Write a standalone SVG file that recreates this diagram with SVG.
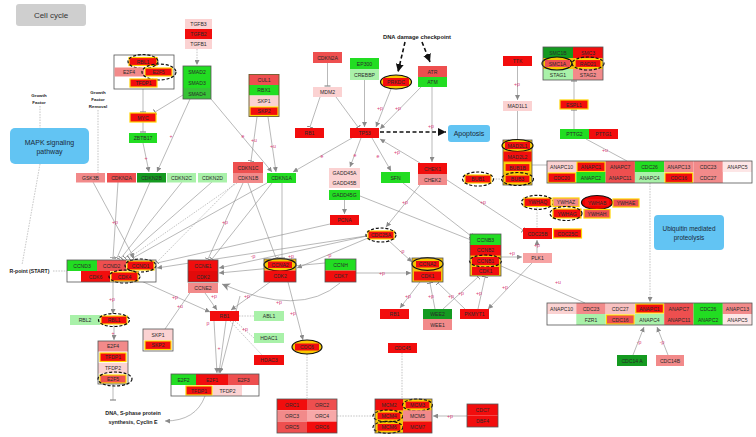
<svg xmlns="http://www.w3.org/2000/svg" width="756" height="437" viewBox="0 0 756 437">
<defs>
<style>
text{font-family:"Liberation Sans",Arial,sans-serif;font-size:5.1px;fill:#2a2a2a;text-anchor:middle;dominant-baseline:central}
.r{fill:#f20d0d}.mr{fill:#ee4f4f}.lr{fill:#f28a8a}.pk{fill:#fbd2d2}.vp{fill:#fde6e6}.g{fill:#22dd22}.dg{fill:#149a20}.lg{fill:#a9f1a9}.mg{fill:#36c336}.wh{fill:#fff}.gold{fill:#f4c20d}
.y{stroke:#ffd400;stroke-width:1.2}
.bx{fill:none;stroke:#555;stroke-width:0.8}
.de{fill:none;stroke:#111;stroke-width:1.2;stroke-dasharray:3 1.8}
.se{fill:#f7c600;stroke:#111;stroke-width:1.2}
.ln{fill:none;stroke:#8a8a8a;stroke-width:0.6}
.dl{fill:none;stroke:#9a9a9a;stroke-width:0.6;stroke-dasharray:1.5 1.2}
.bd{fill:none;stroke:#111;stroke-width:1.6;stroke-dasharray:4 2.5}
.lb{fill:#d83a78;font-size:5.2px}
.pw{fill:#62c4f3}
.bt{font-weight:bold;fill:#222}
</style>
<marker id="a" viewBox="0 0 10 10" refX="10" refY="5" markerWidth="5" markerHeight="5" orient="auto" markerUnits="userSpaceOnUse"><path d="M0,0L10,5L0,10z" fill="#8a8a8a"/></marker>
<marker id="A" viewBox="0 0 10 10" refX="10" refY="5" markerWidth="10" markerHeight="8" orient="auto" markerUnits="userSpaceOnUse"><path d="M0,0L10,5L0,10L3,5z" fill="#8a8a8a"/></marker>
<marker id="t" viewBox="0 0 2 10" refX="1" refY="5" markerWidth="1.2" markerHeight="7" orient="auto" markerUnits="userSpaceOnUse"><rect width="2" height="10" fill="#8a8a8a"/></marker>
<marker id="k" viewBox="0 0 10 10" refX="10" refY="5" markerWidth="8" markerHeight="8" orient="auto" markerUnits="userSpaceOnUse"><path d="M0,0L10,5L0,10z" fill="#111"/></marker>
</defs>
<rect width="756" height="437" fill="#fff"/>

<!-- connectors -->
<g id="connectors">
<path class="ln" d="M143,89V112" marker-end="url(#t)"/>
<path class="ln" d="M183,95L155,112" marker-end="url(#t)"/>
<path class="ln" d="M143,122V132" marker-end="url(#t)"/>
<path class="ln" d="M143,143L149,172" marker-end="url(#a)"/>
<path class="ln" d="M190,99L157,172" marker-end="url(#a)"/>
<path class="ln" d="M211,99L272,172" marker-end="url(#a)"/>
<path class="dl" d="M197,49V65" marker-end="url(#a)"/>
<path class="ln" d="M257,117L251,161" marker-end="url(#t)"/>
<path class="ln" d="M268,117L276,172" marker-end="url(#a)"/>
<path class="ln" d="M327.5,63V86" marker-end="url(#t)"/>
<path class="ln" d="M320,97L310,127" marker-end="url(#t)"/>
<path class="ln" d="M336,97L358,127" marker-end="url(#t)"/>
<path class="ln" d="M364.5,80V127" marker-end="url(#a)"/>
<path class="ln" d="M391,89L376,127" marker-end="url(#a)"/>
<path class="ln" d="M421,87L380,129" marker-end="url(#a)"/>
<path class="bd" d="M405,42L398,72" marker-end="url(#k)"/>
<path class="bd" d="M422,42L430,62" marker-end="url(#k)"/>
<path class="bd" d="M380,132H446" marker-end="url(#k)"/>
<path class="ln" d="M432,87V162" marker-end="url(#a)"/>
<path class="ln" d="M517.5,66V100" marker-end="url(#a)"/>
<path class="ln" d="M517.5,111V140"/>
<path class="ln" d="M574,100V81" marker-end="url(#t)"/>
<path class="ln" d="M574,129V110" marker-end="url(#t)"/>
<path class="ln" d="M586,139L627,161"/>
<path class="ln" d="M532,165H547"/>
<path class="dl" d="M493,179H503"/>
<path class="dl" d="M537,207V228"/>
<path class="dl" d="M650,183V302" marker-end="url(#a)"/>
<path class="ln" d="M352,138L293,172" marker-end="url(#a)"/>
<path class="ln" d="M361,138L350,167" marker-end="url(#a)"/>
<path class="ln" d="M372,138L391,171" marker-end="url(#a)"/>
<path class="ln" d="M420,163L380,139" marker-end="url(#a)"/>
<path class="ln" d="M344.5,200V214" marker-end="url(#a)"/>
<path class="ln" d="M420,185L386,227" marker-end="url(#a)"/>
<path class="ln" d="M447,180L523,230" marker-end="url(#t)"/>
<path class="ln" d="M403,183L471,236" marker-end="url(#t)"/>
<path class="ln" d="M360,196L471,240" marker-end="url(#t)"/>
<path class="ln" d="M330,224L157,263"/>
<path class="ln" d="M366,236L157,268" marker-end="url(#a)"/>
<path class="ln" d="M367,236L219,268" marker-end="url(#a)"/>
<path class="ln" d="M368,238L297,268" marker-end="url(#a)"/>
<path class="ln" d="M325,263L219,273" marker-end="url(#a)"/>
<path class="ln" d="M356,273H411" marker-end="url(#a)"/>
<path class="ln" d="M388,240L412,262" marker-end="url(#a)"/>
<path class="ln" d="M93,182L134,258" marker-end="url(#a)"/>
<path class="ln" d="M118,182L113,258" marker-end="url(#t)"/>
<path class="ln" d="M150,182L117,258" marker-end="url(#t)"/>
<path class="ln" d="M182,182L121,258" marker-end="url(#t)"/>
<path class="ln" d="M212,182L125,258" marker-end="url(#t)"/>
<path class="dl" d="M237,183L129,258" marker-end="url(#t)"/>
<path class="dl" d="M240,178L157,262" marker-end="url(#t)"/>
<path class="ln" d="M267,183L133,258" marker-end="url(#t)"/>
<path class="ln" d="M243,183L208,259" marker-end="url(#t)"/>
<path class="ln" d="M272,183L212,259" marker-end="url(#t)"/>
<path class="ln" d="M282,183V258" marker-end="url(#t)"/>
<path class="ln" d="M248,183L276,258" marker-end="url(#t)"/>
<path class="ln" d="M113,282V314" marker-end="url(#a)"/>
<path class="ln" d="M114,325V340" marker-end="url(#a)"/>
<path class="ln" d="M113,384V400" marker-end="url(#t)"/>
<path class="ln" d="M139,280L210,312" marker-end="url(#a)"/>
<path class="ln" d="M165,329L196,284"/>
<path class="ln" d="M205,293L217,310" marker-end="url(#a)"/>
<path class="ln" d="M270,282L231,310" marker-end="url(#a)"/>
<path class="ln" d="M214,321L217,373" marker-end="url(#a)"/>
<path class="ln" d="M226,321L219,373" marker-end="url(#a)"/>
<path class="ln" d="M240,296L220,373" marker-end="url(#a)"/>
<path class="dl" d="M239,316H254"/>
<path class="dl" d="M235,321L254,338"/>
<path class="dl" d="M230,321L262,355"/>
<path class="ln" d="M288,282L303,340" marker-end="url(#a)"/>
<path class="dl" d="M307,354V398"/>
<path class="dl" d="M337,416H375"/>
<path class="dl" d="M402,353V398"/>
<path class="ln" d="M467,416H433" marker-end="url(#a)"/>
<path class="ln" d="M205,396Q196,421 165,421" marker-end="url(#a)"/>
<path class="ln" d="M340,283Q300,318 222,284" marker-end="url(#A)"/>
<path class="ln" d="M420,282L400,308" marker-end="url(#a)"/>
<path class="ln" d="M435,309L430,283" marker-end="url(#t)"/>
<path class="ln" d="M443,309L478,277" marker-end="url(#t)"/>
<path class="ln" d="M465,309L438,283" marker-end="url(#t)"/>
<path class="ln" d="M478,309L485,277" marker-end="url(#t)"/>
<path class="ln" d="M532,263L488,309" marker-end="url(#a)"/>
<path class="ln" d="M501,257H522" marker-end="url(#a)"/>
<path class="ln" d="M537,253V240" marker-end="url(#a)"/>
<path class="ln" d="M501,266L585,303"/>
<path class="ln" d="M633,355L644,327" marker-end="url(#a)"/>
<path class="ln" d="M668,355L657,327" marker-end="url(#a)"/>
<path class="dl" d="M40,106V128"/>
<path class="dl" d="M98,110V173"/>
<path class="dl" d="M40,164Q30,220 22,265"/>
<path class="dl" d="M53,271H67"/>
</g>

<!-- labels -->
<g id="edge-labels">
<text class="lb" x="146" y="158">+</text>
<text class="lb" x="171" y="136">+</text>
<text class="lb" x="243" y="136">e</text>
<text class="lb" x="254" y="140">+u</text>
<text class="lb" x="273" y="146">+u</text>
<text class="lb" x="380" y="108">+p</text>
<text class="lb" x="398" y="108">+p</text>
<text class="lb" x="431" y="126">+p</text>
<text class="lb" x="517" y="84">+p</text>
<text class="lb" x="605" y="150">+u</text>
<text class="lb" x="322" y="156">e</text>
<text class="lb" x="355" y="155">e</text>
<text class="lb" x="378" y="156">e</text>
<text class="lb" x="397" y="152">+p</text>
<text class="lb" x="405" y="202">+p</text>
<text class="lb" x="483" y="202">+p</text>
<text class="lb" x="115" y="222">+p</text>
<text class="lb" x="225" y="222">+p</text>
<text class="lb" x="253" y="256">-p</text>
<text class="lb" x="291" y="256">+p</text>
<text class="lb" x="329" y="255">-p</text>
<text class="lb" x="402" y="251">-p</text>
<text class="lb" x="382" y="273">+p</text>
<text class="lb" x="112" y="299">+p</text>
<text class="lb" x="113" y="333">+</text>
<text class="lb" x="175" y="297">+p</text>
<text class="lb" x="180" y="306">+u</text>
<text class="lb" x="214" y="296">+p</text>
<text class="lb" x="247" y="296">+p</text>
<text class="lb" x="279" y="302">+p</text>
<text class="lb" x="293" y="313">+p</text>
<text class="lb" x="208" y="323">p</text>
<text class="lb" x="219" y="348">+</text>
<text class="lb" x="245" y="329">+p</text>
<text class="lb" x="408" y="296">+p</text>
<text class="lb" x="431" y="296">+p</text>
<text class="lb" x="451" y="296">+p</text>
<text class="lb" x="461" y="293">+p</text>
<text class="lb" x="479" y="293">+p</text>
<text class="lb" x="505" y="287">+p</text>
<text class="lb" x="512" y="253">+p</text>
<text class="lb" x="537" y="245">+p</text>
<text class="lb" x="558" y="282">+u</text>
<text class="lb" x="450" y="416">+p</text>
<text class="lb" x="639" y="342">-p</text>
<text class="lb" x="662" y="342">-p</text>
</g>

<!-- pathway boxes and texts -->
<g id="title"><rect x="16" y="4" width="70" height="22" rx="3" fill="#cfcfcf"/><text x="51" y="15.5" style="font-size:8px;fill:#333">Cell cycle</text></g>
<g id="mapk"><rect class="pw" x="10" y="128" width="79" height="36" rx="5"/><text x="49.5" y="142" style="font-size:7px;fill:#1a2a3a">MAPK signaling</text><text x="49.5" y="151" style="font-size:7px;fill:#1a2a3a">pathway</text></g>
<g id="apoptosis"><rect class="pw" x="448" y="125" width="42" height="17" rx="3"/><text x="469" y="133.5" style="font-size:7px;fill:#1a2a3a">Apoptosis</text></g>
<g id="ubiquitin"><rect class="pw" x="654" y="215" width="70" height="35" rx="4"/><text x="689" y="228" style="font-size:6.4px;fill:#1a2a3a">Ubiquitin mediated</text><text x="689" y="237" style="font-size:6.4px;fill:#1a2a3a">proteolysis</text></g>
<g id="gf"><text class="bt" x="39" y="95" style="font-size:4.4px">Growth</text><text class="bt" x="39" y="102" style="font-size:4.4px">Factor</text></g>
<g id="gfr"><text class="bt" x="98" y="92" style="font-size:4.4px">Growth</text><text class="bt" x="98" y="99" style="font-size:4.4px">Factor</text><text class="bt" x="98" y="106" style="font-size:4.4px">Removal</text></g>
<g id="dnadc"><text class="bt" x="417" y="37" style="font-size:5.8px">DNA damage checkpoint</text></g>
<g id="rpoint"><text class="bt" x="29.5" y="271" style="font-size:5.2px">R-point (START)</text></g>
<g id="dnasyn"><text class="bt" x="133" y="413" style="font-size:5.4px">DNA, S-phase protein</text><text class="bt" x="133" y="421.5" style="font-size:5.4px">synthesis, Cyclin E</text></g>

<!-- top-left -->
<g id="RBL1-E2F4-complex">
<rect x="114" y="55" width="60" height="34" fill="#fff" stroke="#555" stroke-width="0.8"/>
<rect class="r y" x="129" y="57.5" width="28" height="8"/><text x="143" y="61.5">RBL1</text>
<ellipse class="de" cx="143" cy="61.5" rx="15" ry="7"/>
<rect class="lr" x="114.5" y="67.5" width="29.5" height="9"/><text x="129" y="72">E2F4</text>
<rect class="r y" x="145" y="68" width="27" height="8"/><text x="158.5" y="72">E2F5</text>
<ellipse class="de" cx="159" cy="72" rx="17" ry="8"/>
<rect class="r y" x="130" y="79" width="27" height="8"/><text x="143.5" y="83">TFDP1</text>
</g>
<g id="MYC"><rect class="r y" x="130" y="113" width="26" height="9"/><text x="143" y="117.5">MYC</text></g>
<g id="ZBTB17"><rect class="g" x="129" y="133" width="28" height="10"/><text x="143" y="138">ZBTB17</text></g>
<g id="TGFB"><rect class="pk" x="185" y="19" width="27" height="10"/><text x="198.5" y="24">TGFB3</text><rect class="r" x="185" y="29" width="27" height="10"/><text x="198.5" y="34">TGFB2</text><rect class="pk" x="185" y="39" width="27" height="10"/><text x="198.5" y="44">TGFB1</text></g>
<g id="SMAD"><rect class="g" x="183" y="66" width="28" height="11"/><text x="197" y="71.5">SMAD2</text><rect class="g" x="183" y="77" width="28" height="11"/><text x="197" y="82.5">SMAD3</text><rect class="mg" x="183" y="88" width="28" height="11"/><text x="197" y="93.5">SMAD4</text><rect class="bx" x="183" y="66" width="28" height="33"/></g>
<g id="SCF"><rect class="mr" x="249" y="74.5" width="30" height="10.5"/><text x="264" y="80">CUL1</text><rect class="g" x="249" y="85" width="30" height="10.5"/><text x="264" y="90">RBX1</text><rect class="pk" x="249" y="95.5" width="30" height="10.5"/><text x="264" y="101">SKP1</text><rect class="r y" x="250" y="107" width="28" height="8.5"/><text x="264" y="111">SKP2</text><rect x="249" y="74.5" width="30" height="42" fill="none" stroke="#6a5a2a" stroke-width="0.9"/></g>
<g id="CDKN2A-top"><rect class="mr" x="313" y="52" width="29" height="11"/><text x="327.5" y="57.5">CDKN2A</text></g>
<g id="MDM2"><rect class="pk" x="313" y="87" width="29" height="10"/><text x="327.5" y="92">MDM2</text></g>
<g id="RB1-top"><rect class="r" x="295" y="128" width="29" height="10"/><text x="309.5" y="133">RB1</text></g>
<g id="EP300"><rect class="g" x="350" y="58" width="29" height="11"/><text x="364.5" y="63.5">EP300</text><rect class="lg" x="350" y="69" width="29" height="11"/><text x="364.5" y="74.5">CREBBP</text></g>
<g id="TP53"><rect class="r" x="350" y="128" width="29" height="10"/><text x="364.5" y="133">TP53</text></g>
<g id="PRKDC"><ellipse class="se" cx="396" cy="82" rx="15.5" ry="7"/><rect class="r" x="383" y="78" width="26" height="8"/><text x="396" y="82">PRKDC</text></g>
<g id="ATR"><rect class="mr" x="418" y="66" width="29" height="11"/><text x="432.5" y="71.5">ATR</text><rect class="g" x="418" y="77" width="29" height="10"/><text x="432.5" y="82">ATM</text></g>
<g id="TTK"><rect class="r" x="503" y="56" width="29" height="10"/><text x="517.5" y="61">TTK</text></g>
<g id="MAD1L1"><rect class="pk" x="503" y="101" width="29" height="10"/><text x="517.5" y="106">MAD1L1</text></g>
<g id="MAD2-BUB">
<rect x="503" y="140" width="29" height="45" fill="#f4c20d" stroke="#555" stroke-width="0.8"/>
<ellipse class="se" cx="517.5" cy="145.5" rx="15.5" ry="6"/><rect class="r" x="505" y="142" width="25" height="7"/><text x="517.5" y="145.5">MAD2L1</text>
<rect class="r" x="503.5" y="151.5" width="28" height="10"/><text x="517.5" y="156.5">MAD2L2</text>
<rect class="r y" x="505" y="163.5" width="25" height="8"/><text x="517.5" y="167.5">BUB1B</text>
<rect class="r y" x="505" y="175" width="25" height="8"/><text x="517.5" y="179">BUB3</text>
<ellipse class="de" cx="517.5" cy="179" rx="16" ry="6.5"/>
</g>
<g id="BUB1"><rect class="r y" x="465" y="175" width="26" height="8"/><text x="478" y="179">BUB1</text><ellipse class="de" cx="478" cy="179" rx="15.5" ry="7"/></g>
<g id="SMC">
<rect class="dg" x="543" y="47" width="30" height="11"/><text x="558" y="52.5">SMC1B</text>
<rect class="r" x="573" y="47" width="30" height="11"/><text x="588" y="52.5">SMC3</text>
<rect class="lg" x="543" y="69" width="30" height="11"/><text x="558" y="74.5">STAG1</text>
<rect class="lr" x="573" y="69" width="30" height="11"/><text x="588" y="74.5">STAG2</text>
<rect class="gold" x="543" y="58" width="60" height="11"/>
<ellipse class="se" cx="557" cy="63.5" rx="15" ry="6.5"/><rect class="mr" x="545" y="60" width="25" height="7"/><text x="557.5" y="63.5">SMC1A</text>
<rect class="r y" x="575" y="59.5" width="26" height="8"/><text x="588" y="63.5">RAD21</text>
<ellipse class="de" cx="588" cy="63.5" rx="16" ry="6.5"/>
<rect class="bx" x="543" y="47" width="60" height="33"/>
</g>
<g id="ESPL1"><rect class="r y" x="560" y="100" width="28" height="9"/><text x="574" y="104.5">ESPL1</text></g>
<g id="PTTG"><rect class="g" x="560" y="129" width="29" height="10"/><text x="574.5" y="134">PTTG2</text><rect class="r" x="589" y="129" width="29" height="10"/><text x="603.5" y="134">PTTG1</text></g>

<!-- APC/C top -->
<g id="APC-top">
<rect class="pk" x="547" y="161" width="29.3" height="11"/><text x="561.6" y="166.5">ANAPC10</text>
<rect class="r y" x="577" y="162" width="28" height="9.5"/><text x="591" y="166.5">ANAPC1</text>
<rect class="mr" x="605.6" y="161" width="29.3" height="11"/><text x="620.2" y="166.5">ANAPC7</text>
<rect class="g" x="634.9" y="161" width="29.3" height="11"/><text x="649.5" y="166.5">CDC26</text>
<rect class="lr" x="664.2" y="161" width="29.3" height="11"/><text x="678.8" y="166.5">ANAPC13</text>
<rect class="lr" x="693.5" y="161" width="29.3" height="11"/><text x="708.1" y="166.5">CDC23</text>
<rect class="vp" x="722.8" y="161" width="29.3" height="11"/><text x="737.4" y="166.5">ANAPC5</text>
<rect class="r y" x="548" y="173" width="27.5" height="9.5"/><text x="561.6" y="177.5">CDC20</text>
<rect class="g" x="576.3" y="172" width="29.3" height="11"/><text x="591" y="177.5">ANAPC2</text>
<rect class="mr" x="605.6" y="172" width="29.3" height="11"/><text x="620.2" y="177.5">ANAPC11</text>
<rect class="lg" x="634.9" y="172" width="29.3" height="11"/><text x="649.5" y="177.5">ANAPC4</text>
<rect class="r y" x="665" y="173" width="27.7" height="9.5"/><text x="678.8" y="177.5">CDC16</text>
<rect class="lr" x="693.5" y="172" width="29.3" height="11"/><text x="708.1" y="177.5">CDC27</text>
<rect class="bx" x="547" y="161" width="205" height="22"/>
</g>
<!-- 14-3-3 -->
<g id="YWHAQ"><rect class="r y" x="524" y="198" width="27" height="8.5"/><text x="537.5" y="202.3">YWHAQ</text><ellipse class="de" cx="537.5" cy="202.3" rx="16" ry="7"/></g>
<g id="YWHAZ"><rect class="lr y" x="553" y="198" width="26" height="8.5"/><text x="566" y="202.3">YWHAZ</text></g>
<g id="YWHAB"><ellipse class="se" cx="597" cy="202.5" rx="15.5" ry="7" style="fill:#e00"/><rect class="r" x="585" y="199" width="24" height="7"/><text x="597" y="202.5">YWHAB</text></g>
<g id="YWHAE"><rect class="mr y" x="613" y="199" width="26" height="8"/><text x="626" y="203">YWHAE</text></g>
<g id="YWHAG"><rect class="r y" x="553" y="209" width="28" height="9"/><text x="567" y="213.5">YWHAG</text><ellipse class="de" cx="566" cy="213.5" rx="16" ry="7"/></g>
<g id="YWHAH"><rect class="mr y" x="584" y="209.5" width="26" height="8.5"/><text x="597" y="213.8">YWHAH</text></g>
<g id="CDC25B"><rect class="r" x="523" y="228" width="29" height="11"/><text x="537.5" y="233.5">CDC25B</text></g>
<g id="CDC25C"><rect class="r y" x="553.5" y="229" width="28" height="9"/><text x="567.5" y="233.5">CDC25C</text></g>

<!-- middle inhibitors -->
<g id="GSK3B"><rect class="lr" x="76" y="173" width="29" height="9.5"/><text x="90.5" y="177.8">GSK3B</text></g>
<g id="CDKN2A"><rect class="mr" x="107" y="173" width="29" height="9.5"/><text x="121.5" y="177.8">CDKN2A</text></g>
<g id="CDKN2B"><rect class="dg" x="137" y="173" width="29" height="9.5"/><text x="151.5" y="177.8">CDKN2B</text></g>
<g id="CDKN2C"><rect class="lg" x="167" y="173" width="29" height="9.5"/><text x="181.5" y="177.8">CDKN2C</text></g>
<g id="CDKN2D"><rect class="lg" x="198" y="173" width="29" height="9.5"/><text x="212.5" y="177.8">CDKN2D</text></g>
<g id="CDKN1C"><rect class="mr" x="233" y="162" width="30" height="11"/><text x="248" y="167.5">CDKN1C</text><rect class="lr" x="233" y="173" width="30" height="10"/><text x="248" y="178">CDKN1B</text></g>
<g id="CDKN1A"><rect class="g" x="267" y="173" width="29" height="10"/><text x="281.5" y="178">CDKN1A</text></g>
<g id="GADD45"><rect class="pk" x="329" y="168" width="31" height="10"/><text x="344.5" y="173">GADD45A</text><rect class="pk" x="329" y="178" width="31" height="10"/><text x="344.5" y="183">GADD45B</text><rect class="g" x="329" y="190" width="31" height="10"/><text x="344.5" y="195">GADD45G</text></g>
<g id="PCNA"><rect class="r" x="330" y="215" width="29" height="10"/><text x="344.5" y="220">PCNA</text></g>
<g id="SFN"><rect class="g" x="381" y="172" width="29" height="11"/><text x="395.5" y="177.5">SFN</text></g>
<g id="CHEK"><rect class="r" x="418" y="163" width="29" height="11"/><text x="432.5" y="168.5">CHEK1</text><rect class="lr" x="418" y="174" width="29" height="11"/><text x="432.5" y="179.5">CHEK2</text></g>
<g id="CDC25A"><rect class="r y" x="368" y="231" width="26" height="8"/><text x="381" y="235">CDC25A</text><ellipse class="de" cx="381" cy="235" rx="15" ry="7"/></g>

<!-- CDK complexes -->
<g id="CycD-CDK46">
<rect x="67" y="260" width="89" height="22" fill="#fff"/>
<rect class="g" x="67" y="260" width="30" height="11"/><text x="82" y="265.5">CCND3</text>
<rect class="mr" x="97" y="260" width="29" height="11"/><text x="111.5" y="265.5">CCND2</text>
<rect class="r y" x="127" y="261" width="27" height="9"/><text x="140.5" y="265.5">CCND1</text>
<ellipse class="de" cx="140.5" cy="265.5" rx="15.5" ry="6.5"/>
<rect class="r" x="81" y="271" width="29" height="11"/><text x="95.5" y="276.5">CDK6</text>
<rect class="r y" x="111" y="272" width="27" height="9"/><text x="124.5" y="276.5">CDK4</text>
<ellipse class="de" cx="124.5" cy="276.5" rx="15.5" ry="6.5"/>
<rect class="bx" x="67" y="260" width="89" height="22"/>
</g>
<g id="CCNE-CDK2"><rect class="r" x="188" y="260" width="30" height="11"/><text x="203" y="265.5">CCNE1</text><rect fill="#e20a0a" x="188" y="271" width="30" height="11"/><text x="203" y="276.5">CDK2</text><rect class="bx" x="188" y="260" width="30" height="22"/></g>
<g id="CCNE2"><rect class="lr" x="188" y="283" width="30" height="10"/><text x="203" y="288">CCNE2</text></g>
<g id="CCNA2-CDK2"><rect class="gold" x="264" y="259" width="32" height="11.5"/><ellipse class="se" cx="280" cy="264.8" rx="16" ry="6.3"/><rect class="r" x="268" y="261.5" width="24" height="6.5"/><text x="280" y="264.8">CCNA2</text><rect class="r" x="264" y="270.5" width="32" height="11.5"/><text x="280" y="276.3">CDK2</text><rect class="bx" x="264" y="259" width="32" height="23"/></g>
<g id="CCNH-CDK7"><rect class="g" x="325" y="259" width="31" height="11.5"/><text x="340.5" y="264.8">CCNH</text><rect class="r" x="325" y="270.5" width="31" height="11.5"/><text x="340.5" y="276.3">CDK7</text><rect class="bx" x="325" y="259" width="31" height="23"/></g>
<g id="CCNA2-CDK1"><rect class="gold" x="412" y="258" width="31" height="24"/><ellipse class="se" cx="427.5" cy="264" rx="15.5" ry="6.3"/><rect class="r" x="416" y="261" width="23" height="6.5"/><text x="427.5" y="264.2">CCNA2</text><rect class="r" x="414" y="271.5" width="27" height="9"/><text x="427.5" y="276">CDK1</text><rect class="bx" x="412" y="258" width="31" height="24"/></g>
<g id="CCNB-CDK1"><rect class="gold" x="470" y="234" width="31" height="42"/><rect class="g" x="470" y="234" width="31" height="11"/><text x="485.5" y="239.5">CCNB3</text><rect class="r" x="470" y="245" width="31" height="10.5"/><text x="485.5" y="250.3">CCNB2</text><rect class="r" x="472" y="257" width="27" height="8"/><text x="485.5" y="261">CCNB1</text><ellipse class="de" cx="485.5" cy="261" rx="16" ry="6"/><rect class="r" x="472" y="267" width="27" height="8"/><text x="485.5" y="271">CDK1</text><rect class="bx" x="470" y="234" width="31" height="42"/></g>
<g id="PLK1"><rect fill="#f7a3a3" x="523" y="253" width="29" height="10"/><text x="537.5" y="258">PLK1</text></g>

<!-- lower -->
<g id="RBL2"><rect class="lg" x="70" y="315" width="30" height="10"/><text x="85" y="320">RBL2</text></g>
<g id="RBL1"><rect class="r y" x="101" y="316" width="26" height="8"/><text x="114" y="320">RBL1</text><ellipse class="de" cx="114" cy="320" rx="15.5" ry="6.5"/></g>
<g id="E2F4-complex"><rect class="lr" x="98" y="341" width="30" height="10.5"/><text x="113" y="346.3">E2F4</text><rect class="r y" x="100" y="353" width="26" height="8.5"/><text x="113" y="357.2">TFDP1</text><rect class="pk" x="98" y="363" width="30" height="10.5"/><text x="113" y="368.3">TFDP2</text><rect class="mr y" x="100" y="375" width="26" height="8"/><text x="113" y="379">E2F5</text><rect class="bx" x="98" y="341" width="30" height="43"/><ellipse class="de" cx="115" cy="379" rx="17" ry="7"/></g>
<g id="SKP-lower"><rect class="pk" x="143" y="329" width="30" height="11"/><text x="158" y="334.5">SKP1</text><rect class="r y" x="145" y="341" width="26" height="8.5"/><text x="158" y="345.3">SKP2</text><rect class="bx" x="143" y="329" width="30" height="22"/></g>
<g id="RB1-mid"><rect class="r" x="210" y="311" width="29" height="10"/><text x="224.5" y="316">RB1</text></g>
<g id="ABL1"><rect class="lg" x="254" y="311" width="30" height="10"/><text x="269" y="316">ABL1</text></g>
<g id="HDAC1"><rect class="lg" x="254" y="333" width="30" height="10"/><text x="269" y="338">HDAC1</text></g>
<g id="HDAC3"><rect class="r" x="254" y="355" width="30" height="10"/><text x="269" y="360">HDAC3</text></g>
<g id="CDC6"><ellipse class="se" cx="307" cy="347" rx="15" ry="7"/><rect class="r" x="295" y="343.5" width="24" height="7"/><text x="307" y="347">CDC6</text></g>
<g id="E2F-complex"><rect x="171" y="374" width="88" height="22" fill="#fff"/><rect class="g" x="171" y="374" width="25" height="11"/><text x="183.5" y="379.5">E2F2</text><rect class="r" x="196" y="374" width="32" height="11"/><text x="212" y="379.5">E2F1</text><rect class="mr" x="228" y="374" width="31" height="11"/><text x="243.5" y="379.5">E2F3</text><rect class="r y" x="186" y="386" width="26" height="9"/><text x="199" y="390.5">TFDP1</text><rect class="pk" x="213" y="385" width="29" height="11"/><text x="227.5" y="390.5">TFDP2</text><rect class="bx" x="171" y="374" width="88" height="22"/></g>
<g id="ORC"><rect class="r" x="277" y="399" width="30" height="11.3"/><text x="292" y="404.7">ORC1</text><rect class="mr" x="307" y="399" width="30" height="11.3"/><text x="322" y="404.7">ORC2</text><rect class="lr" x="277" y="410.3" width="30" height="11.3"/><text x="292" y="416">ORC3</text><rect fill="#f7a8a8" x="307" y="410.3" width="30" height="11.3"/><text x="322" y="416">ORC4</text><rect class="mr" x="277" y="421.6" width="30" height="11.4"/><text x="292" y="427.3">ORC5</text><rect class="r" x="307" y="421.6" width="30" height="11.4"/><text x="322" y="427.3">ORC6</text><rect class="bx" x="277" y="399" width="60" height="34"/></g>
<g id="RB1-right"><rect class="r" x="380" y="309" width="29" height="10"/><text x="394.5" y="314">RB1</text></g>
<g id="WEE"><rect class="dg" x="423" y="309" width="29" height="10"/><text x="437.5" y="314">WEE2</text><rect class="lr" x="423" y="319" width="29" height="11"/><text x="437.5" y="324.5">WEE1</text></g>
<g id="PKMYT1"><rect class="r" x="460" y="309" width="29" height="10"/><text x="474.5" y="314">PKMYT1</text></g>
<g id="CDC45"><rect class="r" x="388" y="343" width="29" height="10"/><text x="402.5" y="348">CDC45</text></g>
<g id="MCM"><rect class="gold" x="375" y="399" width="57" height="34"/><rect class="r" x="375" y="399" width="28" height="11.3"/><text x="389" y="404.7">MCM2</text><rect class="r y" x="405" y="401" width="25" height="8"/><text x="417.5" y="405">MCM3</text><ellipse class="de" cx="417.5" cy="405" rx="15" ry="6"/><rect class="r y" x="377" y="412" width="24" height="8"/><text x="389" y="416">MCM4</text><ellipse class="de" cx="388" cy="416" rx="15" ry="6"/><rect class="lr" x="403" y="410.3" width="29" height="11.3"/><text x="417.5" y="416">MCM5</text><rect class="r y" x="377" y="423.3" width="24" height="8"/><text x="389" y="427.3">MCM6</text><ellipse class="de" cx="388" cy="427.3" rx="15" ry="6"/><rect class="r" x="403" y="421.6" width="29" height="11.4"/><text x="417.5" y="427.3">MCM7</text><rect class="bx" x="375" y="399" width="57" height="34"/></g>
<g id="CDC7-DBF4"><rect class="r" x="467" y="404" width="31" height="11.5"/><text x="482.5" y="409.8">CDC7</text><rect class="r" x="467" y="415.5" width="31" height="11.5"/><text x="482.5" y="421.3">DBF4</text><rect class="bx" x="467" y="404" width="31" height="23"/></g>
<g id="APC-lower">
<rect class="pk" x="547" y="303" width="29.3" height="11"/><text x="561.6" y="308.5">ANAPC10</text>
<rect class="lr" x="576.3" y="303" width="29.3" height="11"/><text x="591" y="308.5">CDC23</text>
<rect fill="#f8c0c0" x="605.6" y="303" width="29.3" height="11"/><text x="620.2" y="308.5">CDC27</text>
<rect class="r y" x="635.7" y="304" width="27.7" height="9"/><text x="649.5" y="308.5">ANAPC1</text>
<rect class="mr" x="664.2" y="303" width="29.3" height="11"/><text x="678.8" y="308.5">ANAPC7</text>
<rect class="g" x="693.5" y="303" width="29.3" height="11"/><text x="708.1" y="308.5">CDC26</text>
<rect class="lr" x="722.8" y="303" width="29.3" height="11"/><text x="737.4" y="308.5">ANAPC13</text>
<rect class="lg" x="576.3" y="314" width="29.3" height="11"/><text x="591" y="319.5">FZR1</text>
<rect class="mr y" x="606.4" y="315" width="27.7" height="9"/><text x="620.2" y="319.5">CDC16</text>
<rect class="lg" x="634.9" y="314" width="29.3" height="11"/><text x="649.5" y="319.5">ANAPC4</text>
<rect class="mr" x="664.2" y="314" width="29.3" height="11"/><text x="678.8" y="319.5">ANAPC11</text>
<rect class="g" x="693.5" y="314" width="29.3" height="11"/><text x="708.1" y="319.5">ANAPC2</text>
<rect class="vp" x="722.8" y="314" width="29.3" height="11"/><text x="737.4" y="319.5">ANAPC5</text>
<rect class="bx" x="547" y="303" width="205" height="22"/>
</g>
<g id="CDC14A"><rect class="dg" x="617" y="355" width="30" height="11"/><text x="632" y="360.5">CDC14 A</text></g>
<g id="CDC14B"><rect class="lr" x="656" y="355" width="28" height="11"/><text x="670" y="360.5">CDC14B</text></g>
</svg>
